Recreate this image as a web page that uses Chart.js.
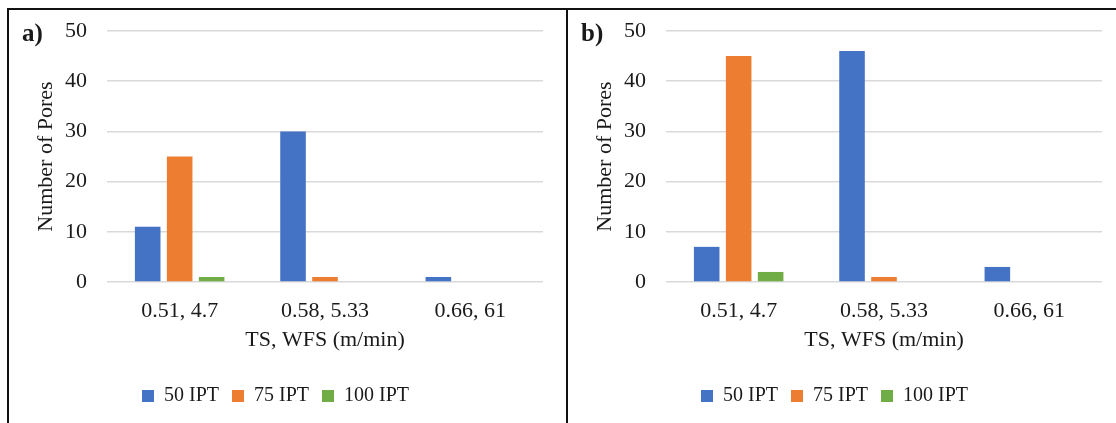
<!DOCTYPE html>
<html>
<head>
<meta charset="utf-8">
<script src="https://cdn.jsdelivr.net/npm/chart.js@4.4.0/dist/chart.umd.min.js"></script>
<style>
    html, body { margin: 0; padding: 0; background: #fff; overflow: hidden; }
    body { width: 1116px; height: 423px; position: relative; }
    .line { position: absolute; background: #111; }
    .panel { position: absolute; top: 9px; width: 558px; height: 414px; }
</style>
</head>
<body>
<div class="line" style="left:7px; top:8px; width:1120px; height:1.5px;"></div>
<div class="line" style="left:7px; top:8px; width:1.5px; height:420px;"></div>
<div class="line" style="left:566px; top:8px; width:1.5px; height:420px;"></div>
<div class="panel" style="left:8px;"><canvas id="chartA"></canvas></div>
<div class="panel" style="left:567px;"><canvas id="chartB"></canvas></div>
<script>
const categories = ['0.51, 4.7', '0.58, 5.33', '0.66, 61'];
const seriesNames = ['50 IPT', '75 IPT', '100 IPT'];
const seriesColors = ['#4472C4', '#ED7D31', '#70AD47'];

// panel a
const a50 = [11, 30, 1];
const a75 = [25, 1, 0];
const a100 = [1, 0, 0];

// panel b
const b50 = [7, 46, 3];
const b75 = [45, 1, 0];
const b100 = [2, 0, 0];

const yMax = 50;
const yStep = 10;
const xTitle = 'TS, WFS (m/min)';
const yTitle = 'Number of Pores';

const fontFamily = "'Liberation Serif', 'Times New Roman', serif";
const textColor = '#1a1a1a';

// panel letter and x axis title, drawn on top of the chart
const panelText = {
    id: 'panelText',
    afterDraw(chart, args, opts) {
        const ctx = chart.ctx;
        const area = chart.chartArea;
        ctx.save();
        ctx.fillStyle = textColor;
        ctx.font = 'bold 25px ' + fontFamily;
        ctx.textAlign = 'left';
        ctx.textBaseline = 'alphabetic';
        ctx.fillText(opts.label, 14, 32);
        ctx.font = '22px ' + fontFamily;
        ctx.textAlign = 'center';
        ctx.textBaseline = 'middle';
        ctx.fillText(xTitle, (area.left + area.right) / 2, 331);
        ctx.restore();
    }
};

function drawPanel(id, label, s50, s75, s100) {
    const ctx = document.getElementById(id).getContext('2d');
    const values = [s50, s75, s100];
    return new Chart(ctx, {
        type: 'bar',
        data: {
            labels: categories,
            datasets: seriesNames.map(function (name, i) {
                return {
                    label: name,
                    data: values[i],
                    backgroundColor: seriesColors[i],
                    borderWidth: 0,
                    barPercentage: 0.8,
                    categoryPercentage: 0.66
                };
            })
        },
        options: {
            responsive: true,
            maintainAspectRatio: false,
            animation: false,
            layout: {
                padding: {top: 22, right: 23, bottom: 7, left: 0}
            },
            scales: {
                x: {
                    grid: {display: false, drawTicks: false},
                    border: {display: false},
                    ticks: {
                        color: textColor,
                        font: {family: fontFamily, size: 22},
                        padding: 16,
                        maxRotation: 0
                    },
                    afterFit: function (scale) {
                        scale.height = 91;
                    }
                },
                y: {
                    min: 0,
                    max: yMax,
                    grid: {color: '#d9d9d9', lineWidth: 1.4, drawTicks: false},
                    border: {display: false},
                    ticks: {
                        stepSize: yStep,
                        color: textColor,
                        font: {family: fontFamily, size: 22},
                        padding: 20
                    },
                    title: {
                        display: true,
                        text: yTitle,
                        color: textColor,
                        font: {family: fontFamily, size: 22},
                        padding: {top: 25, bottom: 0}
                    },
                    afterFit: function (scale) {
                        scale.width = 99;
                        scale.paddingTop = 0;
                        scale.paddingBottom = 0;
                    }
                }
            },
            plugins: {
                legend: {
                    position: 'bottom',
                    labels: {
                        boxWidth: 12,
                        boxHeight: 12,
                        padding: 13,
                        color: textColor,
                        font: {family: fontFamily, size: 20}
                    }
                },
                tooltip: {enabled: false},
                panelText: {label: label}
            }
        },
        plugins: [panelText]
    });
}

drawPanel('chartA', 'a)', a50, a75, a100);
drawPanel('chartB', 'b)', b50, b75, b100);
</script>
</body>
</html>
